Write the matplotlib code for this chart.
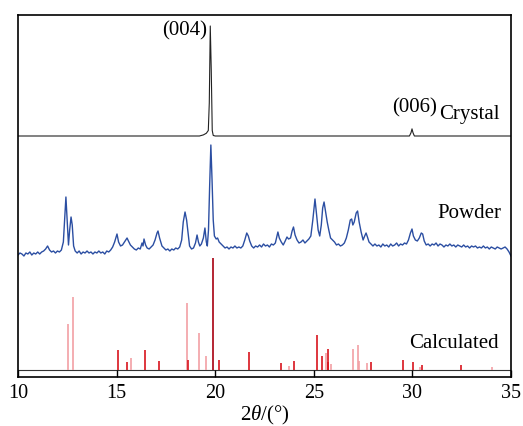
import matplotlib
matplotlib.use("Agg")
import matplotlib.pyplot as plt

plt.rcParams['font.family'] = ['Liberation Serif', 'DejaVu Serif']
plt.rcParams['mathtext.fontset'] = 'custom'
plt.rcParams['mathtext.rm'] = 'Liberation Serif'
plt.rcParams['mathtext.it'] = 'Liberation Serif:italic'

# ---------------- data ----------------
x_ticks = [10, 15, 20, 25, 30, 35]

# Crystal pattern (relative intensity, max 100)
crystal_2theta = [10.0, 19.2, 19.4, 19.55, 19.65, 19.7, 19.75, 19.8, 19.85, 19.9, 20.0,
                  29.85, 29.93, 29.98, 30.03, 30.1, 35.0]
crystal_int = [0, 0, 1, 2.5, 5, 30, 100, 60, 5, 0.5, 0,
               0, 3, 6.5, 3, 0, 0]

# Powder pattern (arbitrary units)
powder_2theta = [10.0, 10.1, 10.2, 10.3, 10.4, 10.5, 10.6, 10.7, 10.8, 10.9, 11.0, 11.1, 11.2, 11.3,
                 11.4, 11.5, 11.6, 11.7, 11.8, 11.9, 12.0, 12.1, 12.2, 12.3, 12.38, 12.43, 12.5, 12.56,
                 12.62, 12.69, 12.75, 12.82, 12.9, 13.0, 13.1, 13.2, 13.3, 13.4, 13.5, 13.6, 13.7, 13.8,
                 13.9, 14.0, 14.1, 14.2, 14.3, 14.4, 14.5, 14.6, 14.7, 14.8, 14.9, 15.02, 15.1, 15.2,
                 15.3, 15.4, 15.53, 15.6, 15.7, 15.8, 15.9, 16.0, 16.1, 16.2, 16.29, 16.34, 16.39, 16.47,
                 16.55, 16.65, 16.75, 16.85, 16.95, 17.05, 17.1, 17.18, 17.3, 17.4, 17.5, 17.6, 17.7, 17.8,
                 17.9, 18.0, 18.1, 18.2, 18.3, 18.38, 18.47, 18.55, 18.62, 18.7, 18.8, 18.9, 19.0, 19.08,
                 19.15, 19.22, 19.3, 19.4, 19.48, 19.55, 19.6, 19.66, 19.72, 19.78, 19.84, 19.9, 19.96,
                 20.05, 20.12, 20.2, 20.3, 20.4, 20.5, 20.6, 20.7, 20.8, 20.9, 21.0, 21.1, 21.2, 21.3,
                 21.4, 21.5, 21.6, 21.68, 21.75, 21.85, 21.95, 22.05, 22.15, 22.25, 22.35, 22.45, 22.55,
                 22.65, 22.75, 22.85, 22.95, 23.05, 23.18, 23.25, 23.35, 23.45, 23.55, 23.64, 23.72,
                 23.82, 23.9, 23.97, 24.05, 24.15, 24.25, 24.35, 24.45, 24.55, 24.65, 24.75, 24.85,
                 24.95, 25.06, 25.14, 25.22, 25.3, 25.38, 25.45, 25.52, 25.6, 25.68, 25.76, 25.85, 25.95,
                 26.05, 26.15, 26.25, 26.35, 26.45, 26.55, 26.65, 26.75, 26.85, 26.92, 26.98, 27.05,
                 27.15, 27.22, 27.3, 27.4, 27.5, 27.58, 27.65, 27.72, 27.8, 27.9, 28.0, 28.1, 28.2, 28.3,
                 28.4, 28.5, 28.6, 28.7, 28.8, 28.9, 29.0, 29.1, 29.2, 29.3, 29.4, 29.5, 29.6, 29.7, 29.8,
                 29.9, 29.98, 30.05, 30.15, 30.25, 30.35, 30.45, 30.52, 30.6, 30.7, 30.8, 30.9, 31.0,
                 31.1, 31.2, 31.3, 31.4, 31.5, 31.6, 31.7, 31.8, 31.9, 32.0, 32.1, 32.2, 32.3, 32.4, 32.5,
                 32.6, 32.7, 32.8, 32.9, 33.0, 33.1, 33.2, 33.3, 33.4, 33.5, 33.6, 33.7, 33.8, 33.9, 34.0,
                 34.1, 34.2, 34.3, 34.4, 34.5, 34.6, 34.7, 34.8, 34.9, 35.0]
powder_int = [5, 7, 6, 4, 7, 6, 8, 5, 7, 6, 8, 6, 8, 9,
              11, 14, 10, 8, 9, 7, 9, 8, 10, 18, 45, 63, 38, 15,
              30, 43, 35, 14, 9, 7, 9, 6, 8, 7, 9, 7, 8, 6,
              8, 7, 9, 7, 8, 6, 9, 8, 10, 13, 18, 26, 18, 14,
              15, 18, 22, 19, 15, 13, 11, 10, 12, 11, 17, 14, 21, 15,
              12, 11, 13, 15, 20, 27, 29, 22, 14, 12, 10, 11, 9, 11,
              10, 12, 11, 13, 20, 38, 48, 40, 28, 14, 11, 12, 17, 25,
              18, 14, 16, 22, 32, 18, 14, 30, 75, 115, 80, 40, 24,
              21, 22, 18, 16, 14, 12, 13, 11, 13, 12, 14, 12, 13, 12,
              14, 20, 27, 24, 19, 14, 12, 14, 13, 15, 13, 16, 14,
              15, 13, 16, 15, 17, 28, 22, 18, 15, 19, 23, 21,
              22, 29, 33, 25, 20, 17, 18, 20, 17, 19, 21, 24,
              40, 61, 45, 30, 24, 35, 52, 58, 48, 38, 30, 22, 20,
              18, 15, 16, 14, 15, 17, 22, 30, 40, 41, 35, 38,
              47, 49, 38, 28, 20, 24, 27, 23, 18, 16, 14, 16, 14, 15,
              13, 16, 14, 15, 13, 16, 14, 15, 17, 14, 16, 15, 17, 16, 20,
              27, 31, 24, 20, 19, 22, 27, 26, 19, 15, 16, 14, 16,
              15, 17, 14, 16, 15, 13, 15, 14, 16, 14, 15, 13, 15, 14, 13,
              15, 13, 14, 12, 14, 13, 14, 12, 13, 12, 14, 12, 13, 11, 13,
              12, 11, 13, 12, 11, 12, 13, 11, 8, 4]

# Calculated reflections (relative intensity, max 100)
calc_strong_2theta = [15.09, 15.54, 16.46, 17.17, 18.64, 20.19, 21.7, 23.34, 24.01, 25.15,
                      25.44, 25.7, 25.74, 27.9, 29.54, 30.03, 30.5, 32.48]
calc_strong_int = [18, 7, 18, 8, 9, 9, 16, 6, 8, 31,
                   12.5, 7, 19, 7, 9, 7, 4.5, 4.5]
calc_weak_2theta = [12.54, 12.79, 15.71, 18.57, 19.19, 19.52, 23.73, 25.6, 25.86, 26.97,
                    27.22, 27.31, 27.68, 30.39, 34.02]
calc_weak_int = [41, 65, 11, 60, 33, 12.5, 3.5, 15, 5, 19,
                 22, 8, 6, 3, 3]
calc_main_2theta = [19.9]
calc_main_int = [100]

# ---------------- figure ----------------
fig = plt.figure(figsize=(5.23, 4.26), dpi=100)
ax = fig.add_axes([18 / 523, 1 - 377 / 426, (511 - 18) / 523, (377 - 15) / 426])

# vertical stacking (offsets / scales)
calc_base, calc_scale = 7, 1.12
powder_base = 117
crys_base, crys_scale = 241, 1.10

ax.axhline(calc_base, color='#333333', lw=0.8, zorder=1)
ax.vlines(calc_weak_2theta, calc_base, [calc_base + v * calc_scale for v in calc_weak_int],
          color='#f2a0a4', lw=1.2, zorder=2)
ax.vlines(calc_strong_2theta, calc_base, [calc_base + v * calc_scale for v in calc_strong_int],
          color='#d8141e', lw=1.2, zorder=3)
ax.vlines(calc_main_2theta, calc_base, [calc_base + v * calc_scale for v in calc_main_int],
          color='#a80010', lw=1.2, zorder=3)

ax.plot(powder_2theta, [powder_base + v for v in powder_int], color='#2b4ea2', lw=1.0)
ax.plot(crystal_2theta, [crys_base + v * crys_scale for v in crystal_int], color='#222222', lw=0.8)

fs = 15
ax.text(19.58, 346, '(004)', ha='right', va='center', fontsize=fs)
ax.text(31.25, 269, '(006)', ha='right', va='center', fontsize=fs)
ax.text(31.35, 262, 'Crystal', ha='left', va='center', fontsize=fs)
ax.text(31.28, 163, 'Powder', ha='left', va='center', fontsize=fs)
ax.text(29.83, 33, 'Calculated', ha='left', va='center', fontsize=fs)

ax.set_xlim(10, 35)
ax.set_ylim(0, 362)
ax.set_xticks(x_ticks)
ax.set_xticklabels([str(t) for t in x_ticks], fontsize=14.5)
ax.set_yticks([])
ax.tick_params(axis='x', direction='in', length=5, width=1.0, pad=5, top=False)
for s in ax.spines.values():
    s.set_linewidth(1.2)
ax.set_xlabel(r'2$\it{\theta}$/(°)', fontsize=15, labelpad=1)

fig.savefig('out.png', dpi=100)
